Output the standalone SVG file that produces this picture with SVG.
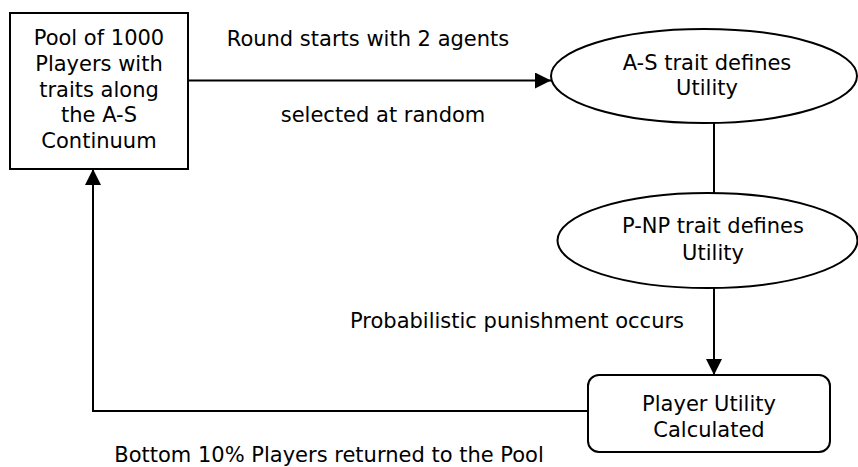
<svg xmlns="http://www.w3.org/2000/svg" width="858" height="467" viewBox="0 0 858 467">
<style>
text{font-family:"DejaVu Sans",Verdana,sans-serif;font-size:21px;fill:#000;text-anchor:middle}
.shape{fill:#fff;stroke:#000;stroke-width:2}
.conn{fill:none;stroke:#000;stroke-width:2}
</style>
<defs>
<marker id="arr" markerUnits="userSpaceOnUse" markerWidth="17" markerHeight="16" refX="16" refY="8" orient="auto">
<path d="M0,0 L16,8 L0,16 Z" fill="#000"/>
</marker>
</defs>
<rect width="858" height="467" fill="#fff"/>
<g id="connectors">
<line class="conn" x1="188" y1="80.5" x2="551" y2="80.5" marker-end="url(#arr)"/>
<line class="conn" x1="714" y1="123" x2="714" y2="193"/>
<line class="conn" x1="714" y1="288" x2="714" y2="375" marker-end="url(#arr)"/>
<polyline class="conn" points="588,411 93,411 93,169" marker-end="url(#arr)"/>
<text x="368" y="46">Round starts with 2 agents</text>
<text x="383" y="122">selected at random</text>
<text x="517" y="328">Probabilistic punishment occurs</text>
<text x="329" y="462">Bottom 10% Players returned to the Pool</text>
</g>
<g id="pool">
<rect class="shape" x="10" y="13" width="178" height="156"/>
<text x="99" y="45">Pool of 1000</text>
<text x="99" y="71">Players with</text>
<text x="99" y="97">traits along</text>
<text x="99" y="122">the A-S</text>
<text x="99" y="148">Continuum</text>
</g>
<g id="as-trait">
<ellipse class="shape" cx="704" cy="76" rx="153" ry="47"/>
<text x="707" y="70">A-S trait defines</text>
<text x="707" y="95">Utility</text>
</g>
<g id="pnp-trait">
<ellipse class="shape" cx="707.5" cy="240.5" rx="150" ry="47.5"/>
<text x="713" y="233">P-NP trait defines</text>
<text x="713" y="260">Utility</text>
</g>
<g id="player-utility">
<rect class="shape" x="588" y="375" width="242" height="77" rx="11"/>
<text x="709" y="411">Player Utility</text>
<text x="709" y="437">Calculated</text>
</g>
</svg>
